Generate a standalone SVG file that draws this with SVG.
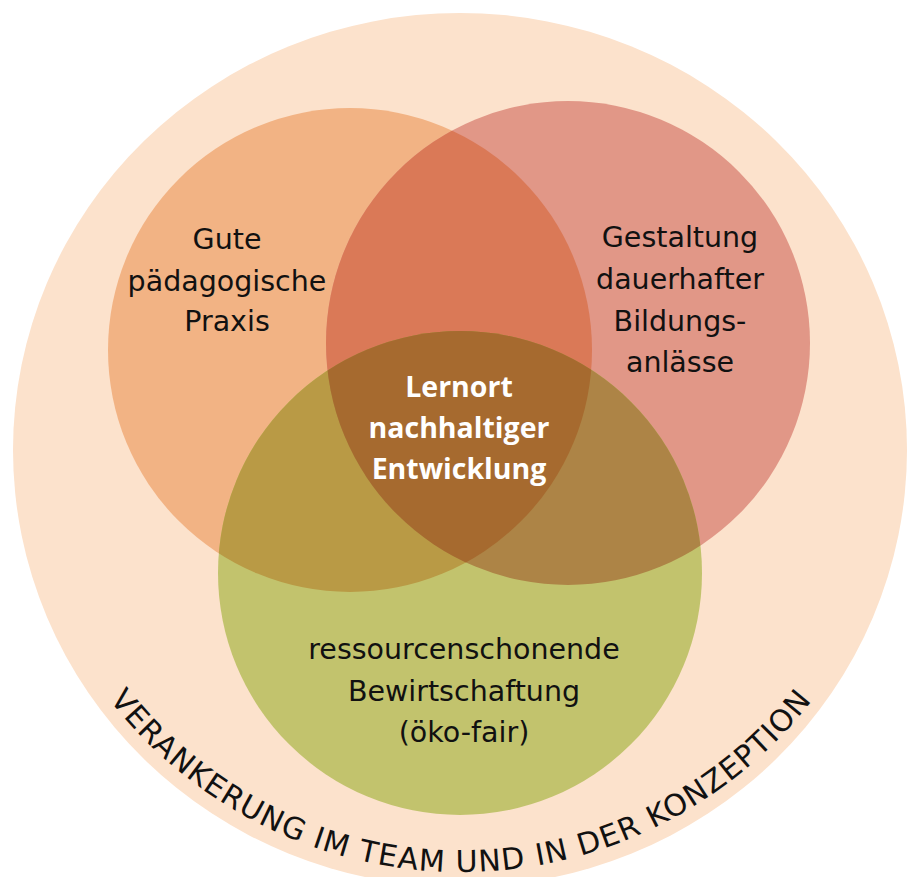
<svg xmlns="http://www.w3.org/2000/svg" width="914" height="877" viewBox="0 0 914 877">
  <style>
    .lbl { font-family: "DejaVu Sans", "Liberation Sans", sans-serif; font-size: 28.5px; fill: #111111; text-anchor: middle; }
    .ctr { font-family: "Open Sans", "DejaVu Sans", sans-serif; font-size: 28.5px; font-weight: 700; fill: #ffffff; text-anchor: middle; }
    .arc { font-family: "DejaVu Sans", "Liberation Sans", sans-serif; font-size: 30px; fill: #111111; letter-spacing: 1.2px; }
  </style>
  <defs>
    <clipPath id="clipOrange"><circle cx="350" cy="350" r="242"/></clipPath>
    <clipPath id="clipRed"><circle cx="568" cy="343" r="242"/></clipPath>
    <path id="arcPath" d="M 16 427 A 445 445 0 0 0 906 427"/>
  </defs>

  <g id="outer">
    <ellipse cx="460" cy="450" rx="447" ry="437" fill="#FCE2CC"/>
  </g>

  <g id="node-paedagogik">
    <circle cx="350" cy="350" r="242" fill="#F2B384"/>
  </g>
  <g id="node-bildungsanlaesse">
    <circle cx="568" cy="343" r="242" fill="#E19787"/>
  </g>
  <g id="node-bewirtschaftung">
    <circle cx="460" cy="573" r="242" fill="#C2C36D"/>
  </g>

  <g id="overlaps">
    <circle cx="568" cy="343" r="242" fill="#DA7957" clip-path="url(#clipOrange)"/>
    <circle cx="460" cy="573" r="242" fill="#B99A45" clip-path="url(#clipOrange)"/>
    <circle cx="460" cy="573" r="242" fill="#AD8446" clip-path="url(#clipRed)"/>
    <g clip-path="url(#clipOrange)">
      <circle cx="460" cy="573" r="242" fill="#A66A2F" clip-path="url(#clipRed)"/>
    </g>
  </g>

  <g id="labels">
    <text class="lbl" x="227" y="249">Gute</text>
    <text class="lbl" x="227" y="291">pädagogische</text>
    <text class="lbl" x="227" y="331">Praxis</text>

    <text class="lbl" x="680" y="247">Gestaltung</text>
    <text class="lbl" x="680" y="289">dauerhafter</text>
    <text class="lbl" x="680" y="331">Bildungs-</text>
    <text class="lbl" x="680" y="372">anlässe</text>

    <text class="lbl" x="464" y="659">ressourcenschonende</text>
    <text class="lbl" x="464" y="701">Bewirtschaftung</text>
    <text class="lbl" x="464" y="742">(öko-fair)</text>
  </g>

  <g id="center">
    <text class="ctr" x="459" y="397">Lernort</text>
    <text class="ctr" x="459" y="438">nachhaltiger</text>
    <text class="ctr" x="459" y="479">Entwicklung</text>
  </g>

  <g id="outer-label">
    <text class="arc"><textPath href="#arcPath" startOffset="50%" text-anchor="middle">VERANKERUNG IM TEAM UND IN DER KONZEPTION</textPath></text>
  </g>

  <g id="connectors"/>
</svg>
